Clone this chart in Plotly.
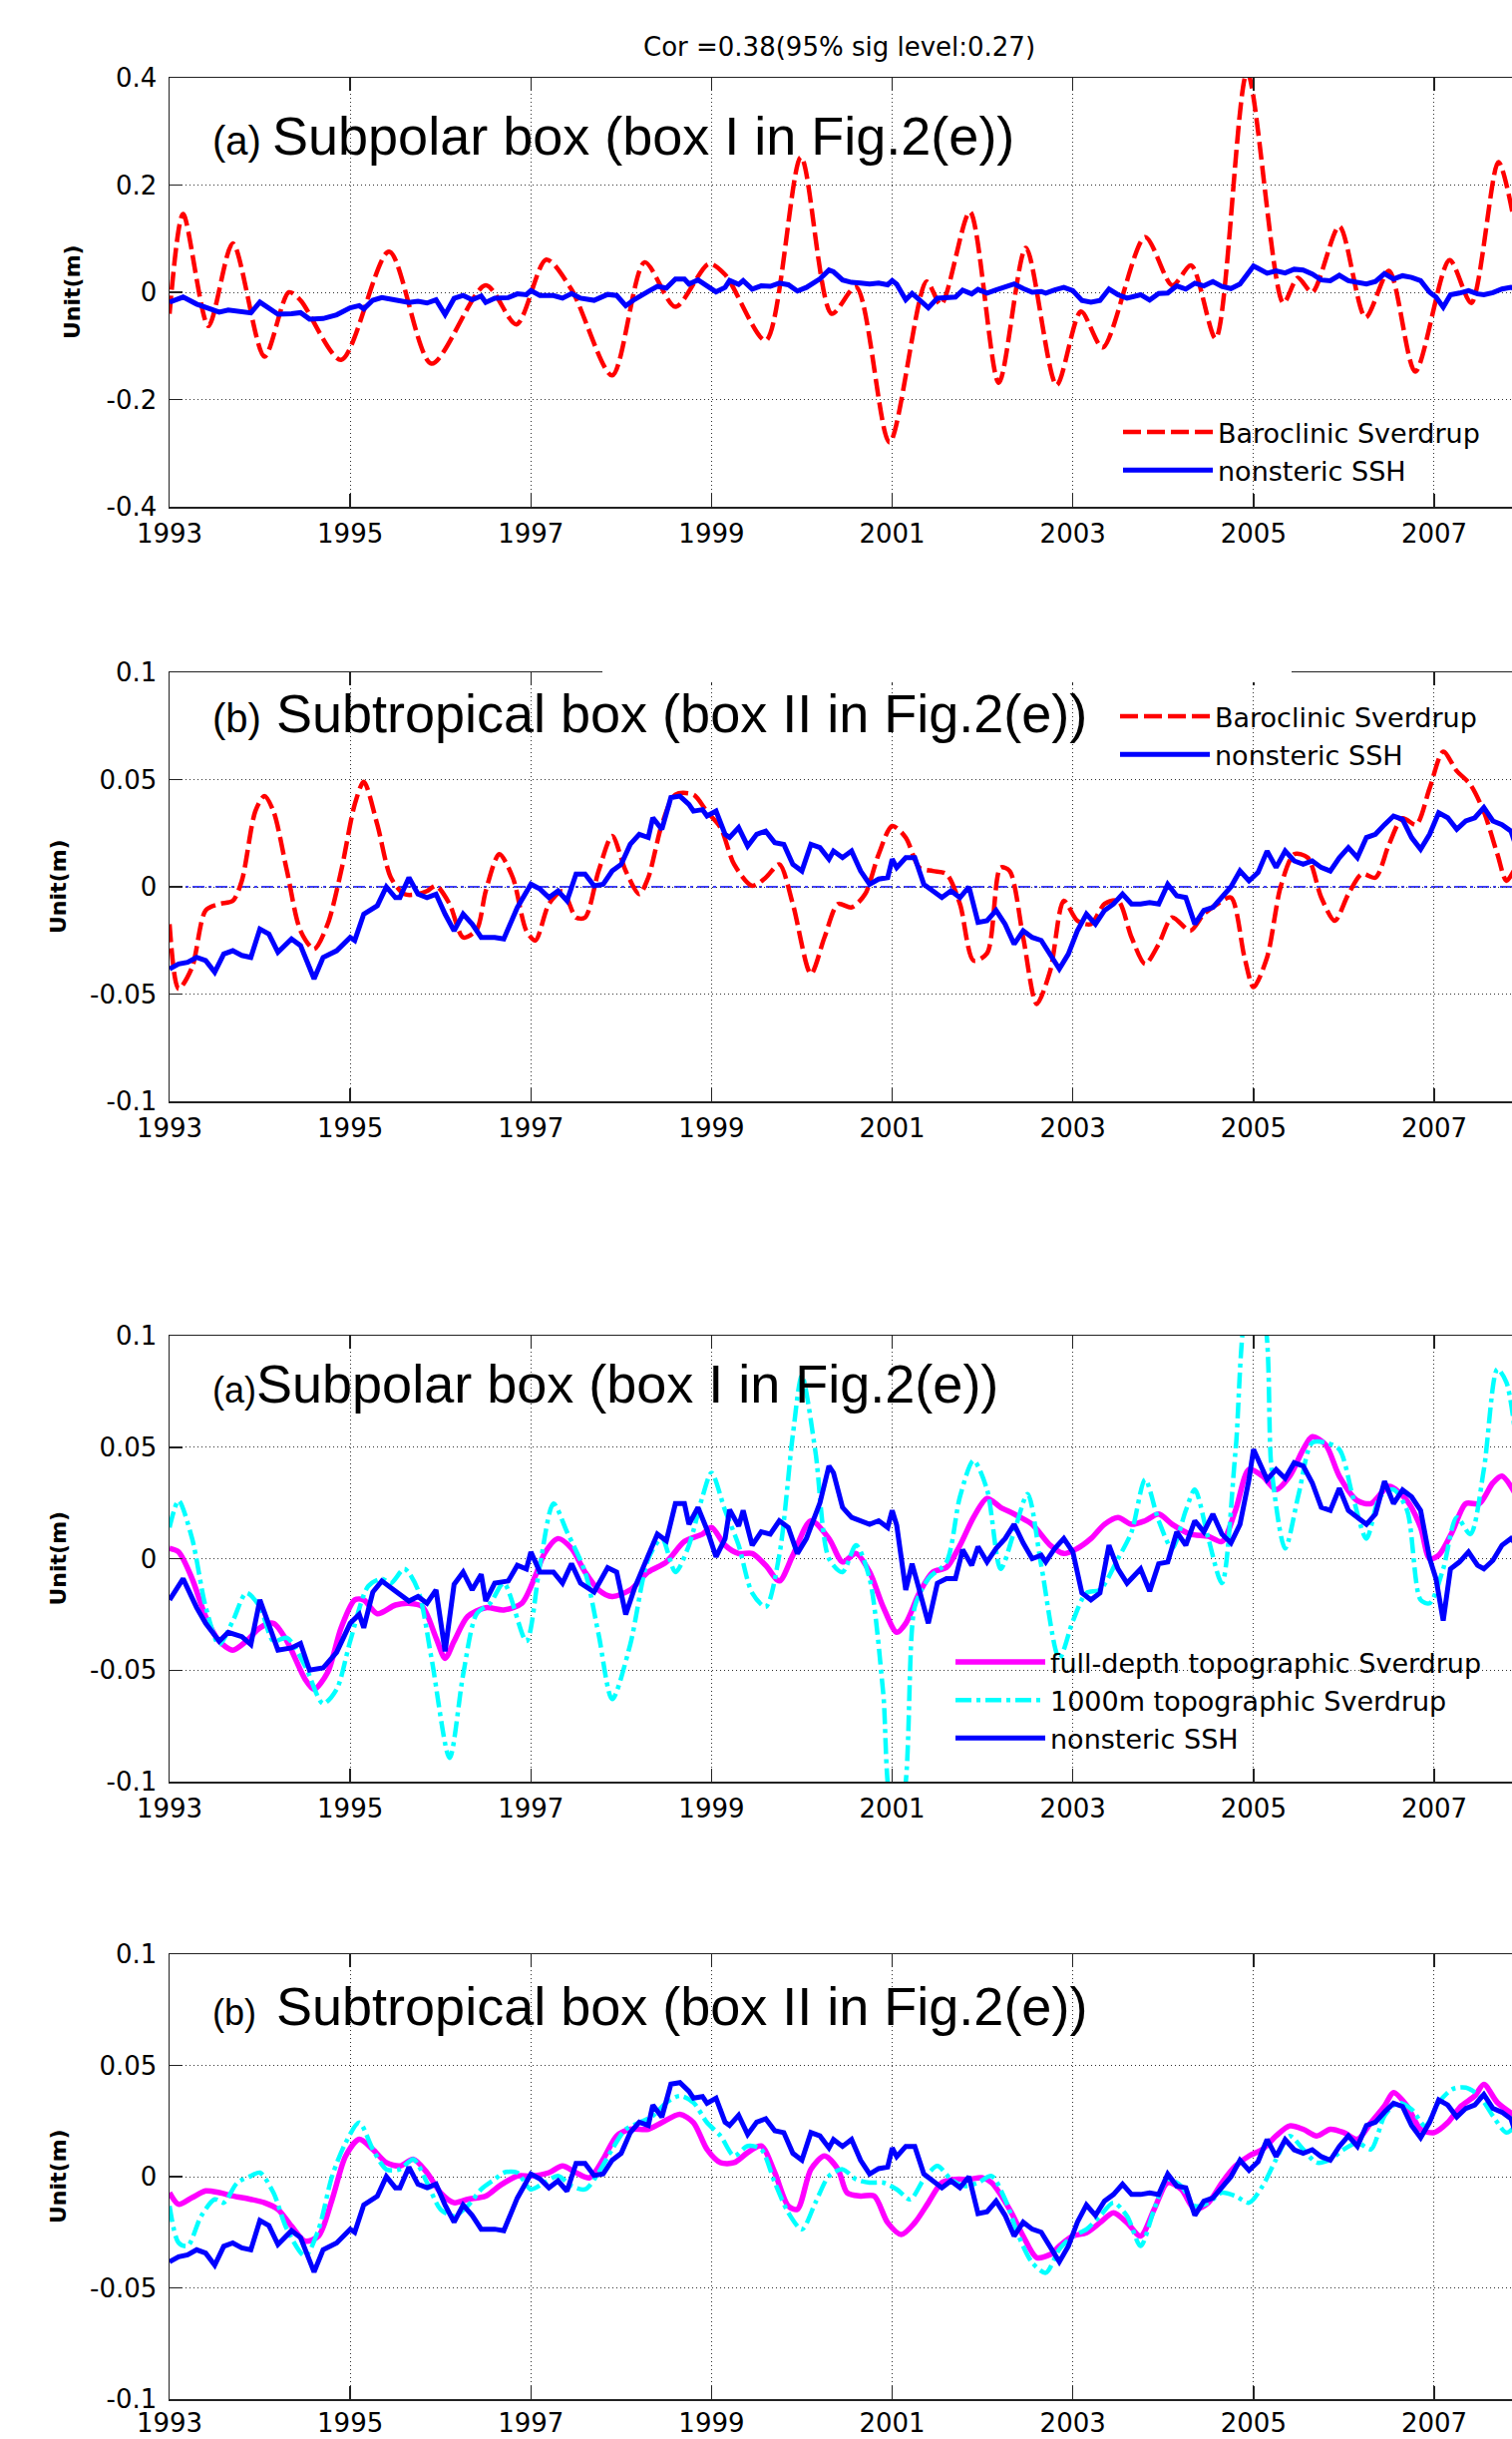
import plotly.graph_objects as go

W, H = 1516, 2445

# ---------------- data (decimal years, metres) ----------------
year_ticks = [1993, 1995, 1997, 1999, 2001, 2003, 2005, 2007]

# Subpolar box: nonsteric SSH (panels a)
sp_ssh_t = [1993.0, 1993.15, 1993.3, 1993.4, 1993.55, 1993.65, 1993.8, 1993.9, 1994.0, 1994.1, 1994.2, 1994.35,
            1994.45, 1994.55, 1994.7, 1994.85, 1995.0, 1995.1, 1995.15, 1995.25, 1995.35, 1995.5, 1995.65, 1995.75,
            1995.85, 1995.95, 1996.05, 1996.15, 1996.25, 1996.35, 1996.45, 1996.5, 1996.6, 1996.75, 1996.85, 1996.95,
            1997.0, 1997.1, 1997.25, 1997.35, 1997.45, 1997.55, 1997.7, 1997.85, 1997.95, 1998.05, 1998.15, 1998.3,
            1998.4, 1998.5, 1998.6, 1998.7, 1998.75, 1998.85, 1998.95, 1999.05, 1999.15, 1999.2, 1999.3, 1999.35,
            1999.45, 1999.55, 1999.65, 1999.75, 1999.85, 1999.95, 2000.05, 2000.2, 2000.3, 2000.35, 2000.45, 2000.55,
            2000.65, 2000.75, 2000.85, 2000.95, 2001.0, 2001.05, 2001.15, 2001.22, 2001.28, 2001.4, 2001.5, 2001.6,
            2001.7, 2001.78, 2001.88, 2001.95, 2002.05, 2002.15, 2002.25, 2002.35, 2002.45, 2002.55, 2002.65, 2002.7,
            2002.8, 2002.9, 2003.0, 2003.1, 2003.2, 2003.3, 2003.4, 2003.5, 2003.6, 2003.75, 2003.85, 2003.95,
            2004.05, 2004.15, 2004.25, 2004.35, 2004.45, 2004.55, 2004.65, 2004.75, 2004.85, 2004.95, 2005.0, 2005.05,
            2005.15, 2005.25, 2005.35, 2005.45, 2005.55, 2005.65, 2005.75, 2005.85, 2005.95, 2006.05, 2006.15, 2006.25,
            2006.35, 2006.45, 2006.55, 2006.65, 2006.75, 2006.85, 2006.95, 2007.02, 2007.1, 2007.18, 2007.28, 2007.38,
            2007.48, 2007.55, 2007.65, 2007.75, 2007.85, 2007.9]
sp_ssh = [-0.0185, -0.009, -0.022, -0.029, -0.037, -0.033, -0.035, -0.0385, -0.0185, -0.030, -0.041, -0.040,
          -0.038, -0.050, -0.049, -0.042, -0.029, -0.025, -0.031, -0.015, -0.010, -0.0145, -0.019, -0.017,
          -0.020, -0.014, -0.0416, -0.0115, -0.006, -0.014, -0.007, -0.019, -0.011, -0.010, -0.003, -0.0046,
          0.003, -0.006, -0.006, -0.011, -0.0023, -0.011, -0.015, -0.004, -0.006, -0.025, -0.013, 0.0015,
          0.011, 0.008, 0.0247, 0.0247, 0.0154, 0.023, 0.013, 0.0008, 0.009, 0.022, 0.0146, 0.0216,
          0.006, 0.012, 0.011, 0.017, 0.014, 0.0023, 0.009, 0.025, 0.0416, 0.0385, 0.023, 0.0185,
          0.017, 0.0154, 0.017, 0.014, 0.0216, 0.015, -0.014, -0.0023, -0.011, -0.029, -0.011, -0.009,
          -0.009, 0.004, -0.003, 0.0054, -0.0015, 0.0046, 0.009, 0.0154, 0.007, 0.0, 0.0015, -0.0015,
          0.0046, 0.009, 0.003, -0.0154, -0.0185, -0.0154, 0.006, -0.0046, -0.011, -0.0046, -0.0146, -0.0023,
          -0.0015, 0.012, 0.006, 0.017, 0.012, 0.020, 0.011, 0.007, 0.0154, 0.0355, 0.049, 0.0447,
          0.0355, 0.040, 0.036, 0.043, 0.0416, 0.034, 0.023, 0.0216, 0.0316, 0.0216, 0.0185, 0.0154,
          0.020, 0.0347, 0.0247, 0.0308, 0.0277, 0.0216, 0.0, -0.009, -0.0278, -0.0046, -0.0015, 0.003,
          -0.003, -0.0046, -0.0008, 0.006, 0.009, 0.007]

# Subpolar box: baroclinic Sverdrup
sp_baro_t = [1993.0, 1993.15, 1993.43, 1993.7, 1994.05, 1994.32, 1994.45, 1994.9, 1995.43, 1995.9, 1996.5, 1996.84,
             1997.17, 1997.45, 1997.9, 1998.26, 1998.6, 1998.97, 1999.15, 1999.6, 1999.99, 2000.33, 2000.6, 2000.97,
             2001.38, 2001.54, 2001.86, 2002.18, 2002.48, 2002.82, 2003.09, 2003.33, 2003.8, 2004.1, 2004.31, 2004.58,
             2004.93, 2005.33, 2005.49, 2005.65, 2005.95, 2006.24, 2006.5, 2006.79, 2007.17, 2007.41, 2007.71, 2007.87]
sp_baro = [-0.04, 0.146, -0.063, 0.091, -0.12, 0.0, -0.015, -0.126, 0.076, -0.133, 0.013, -0.06,
           0.061, 0.005, -0.155, 0.056, -0.027, 0.053, 0.033, -0.09, 0.252, -0.04, 0.01, -0.28,
           0.02, -0.023, 0.15, -0.169, 0.083, -0.173, -0.036, -0.103, 0.103, 0.013, 0.05, -0.086,
           0.41, -0.02, 0.027, 0.0, 0.123, -0.047, 0.04, -0.148, 0.06, -0.02, 0.243, 0.146]

# Subpolar box: full-depth topographic Sverdrup
sp_full_t = [1993.0, 1993.1, 1993.25, 1993.4, 1993.55, 1993.7, 1993.85, 1994.0, 1994.15, 1994.3, 1994.5, 1994.6,
             1994.75, 1994.9, 1995.05, 1995.15, 1995.3, 1995.5, 1995.65, 1995.8, 1995.95, 1996.05, 1996.15, 1996.3,
             1996.5, 1996.7, 1996.9, 1997.05, 1997.15, 1997.3, 1997.45, 1997.6, 1997.75, 1997.9, 1998.1, 1998.3,
             1998.5, 1998.7, 1998.9, 1999.0, 1999.15, 1999.3, 1999.45, 1999.6, 1999.75, 1999.9, 2000.1, 2000.3,
             2000.45, 2000.6, 2000.75, 2000.9, 2001.05, 2001.15, 2001.3, 2001.45, 2001.6, 2001.75, 2001.9, 2002.05,
             2002.2, 2002.35, 2002.55, 2002.75, 2002.9, 2003.05, 2003.2, 2003.35, 2003.5, 2003.65, 2003.8, 2003.95,
             2004.1, 2004.3, 2004.5, 2004.65, 2004.8, 2004.95, 2005.1, 2005.25, 2005.4, 2005.55, 2005.65, 2005.8,
             2005.95, 2006.15, 2006.3, 2006.5, 2006.7, 2006.85, 2006.95, 2007.05, 2007.2, 2007.35, 2007.5, 2007.65,
             2007.75, 2007.9]
sp_full = [0.0046, 0.003, -0.009, -0.026, -0.037, -0.041, -0.037, -0.031, -0.029, -0.037, -0.054, -0.0586,
           -0.051, -0.031, -0.0185, -0.0185, -0.0247, -0.0208, -0.020, -0.0216, -0.0355, -0.0447, -0.037, -0.026,
           -0.022, -0.023, -0.020, -0.0077, 0.0023, 0.009, 0.0046, -0.006, -0.014, -0.017, -0.014, -0.006,
           -0.0015, 0.0077, 0.011, 0.014, 0.006, 0.0023, 0.0023, -0.003, -0.010, 0.0015, 0.017, 0.009,
           -0.0015, 0.0023, -0.006, -0.0216, -0.033, -0.029, -0.0154, -0.006, -0.004, 0.006, 0.0185, 0.027,
           0.023, 0.020, 0.0154, 0.006, 0.0023, 0.0046, 0.009, 0.0154, 0.0185, 0.0154, 0.017, 0.020,
           0.0154, 0.011, 0.010, 0.0077, 0.0216, 0.040, 0.037, 0.031, 0.037, 0.049, 0.0547, 0.051,
           0.037, 0.026, 0.0247, 0.0324, 0.026, 0.014, 0.0, 0.0015, 0.012, 0.0247, 0.0247, 0.034,
           0.037, 0.029]

# Subpolar box: 1000m topographic Sverdrup
sp_1000_t = [1993.0, 1993.1, 1993.25, 1993.4, 1993.55, 1993.7, 1993.85, 1994.0, 1994.15, 1994.3, 1994.5, 1994.7,
             1994.85, 1995.0, 1995.2, 1995.35, 1995.45, 1995.6, 1995.75, 1995.9, 1996.1, 1996.25, 1996.4, 1996.55,
             1996.7, 1996.95, 1997.1, 1997.25, 1997.4, 1997.6, 1997.75, 1997.9, 1998.1, 1998.3, 1998.45, 1998.6,
             1998.75, 1998.9, 1999.0, 1999.15, 1999.3, 1999.45, 1999.6, 1999.75, 1999.9, 2000.0, 2000.15, 2000.3,
             2000.45, 2000.6, 2000.75, 2000.9, 2001.0, 2001.1, 2001.25, 2001.4, 2001.6, 2001.75, 2001.9, 2002.05,
             2002.2, 2002.35, 2002.5, 2002.65, 2002.85, 2003.0, 2003.15, 2003.3, 2003.5, 2003.65, 2003.8, 2003.95,
             2004.1, 2004.25, 2004.35, 2004.5, 2004.65, 2004.8, 2004.95, 2005.1, 2005.2, 2005.35, 2005.5, 2005.65,
             2005.8, 2005.95, 2006.1, 2006.25, 2006.4, 2006.55, 2006.7, 2006.85, 2006.95, 2007.1, 2007.25, 2007.4,
             2007.55, 2007.7, 2007.8, 2007.9]
sp_1000 = [0.014, 0.026, 0.009, -0.0216, -0.0385, -0.028, -0.0154, -0.0216, -0.037, -0.0355, -0.048, -0.065,
           -0.0586, -0.037, -0.0123, -0.009, -0.011, -0.0046, -0.014, -0.0447, -0.0894, -0.052, -0.0247, -0.020,
           -0.011, -0.037, -0.003, 0.0247, 0.012, -0.006, -0.034, -0.063, -0.0385, 0.0, 0.009, -0.006,
           0.006, 0.0278, 0.0385, 0.0216, 0.006, -0.0154, -0.0216, 0.0015, 0.0555, 0.082, 0.048, 0.0,
           -0.006, 0.006, -0.009, -0.060, -0.11, -0.11, -0.0216, -0.009, -0.0015, 0.0278, 0.044, 0.031,
           -0.0046, 0.012, 0.029, -0.003, -0.0447, -0.028, -0.0154, -0.014, 0.0, 0.012, 0.0355, 0.017,
           0.0046, 0.0216, 0.031, 0.009, -0.011, 0.048, 0.115, 0.11, 0.040, 0.0046, 0.029, 0.052,
           0.052, 0.049, 0.0278, 0.009, 0.0278, 0.031, 0.0216, -0.0185, -0.020, -0.0046, 0.0185, 0.011,
           0.040, 0.085, 0.079, 0.055]

# Subtropical box: nonsteric SSH (panels b)
st_ssh_t = [1993.0, 1993.1, 1993.2, 1993.3, 1993.4, 1993.5, 1993.6, 1993.7, 1993.8, 1993.9, 1994.0, 1994.1,
            1994.2, 1994.35, 1994.45, 1994.6, 1994.7, 1994.85, 1995.0, 1995.05, 1995.15, 1995.3, 1995.4, 1995.5,
            1995.55, 1995.65, 1995.75, 1995.85, 1995.95, 1996.05, 1996.15, 1996.25, 1996.35, 1996.45, 1996.6, 1996.7,
            1996.85, 1997.0, 1997.1, 1997.2, 1997.3, 1997.4, 1997.5, 1997.6, 1997.7, 1997.8, 1997.9, 1998.0,
            1998.1, 1998.2, 1998.3, 1998.35, 1998.45, 1998.55, 1998.65, 1998.75, 1998.8, 1998.9, 1998.95, 1999.05,
            1999.15, 1999.2, 1999.3, 1999.4, 1999.5, 1999.6, 1999.7, 1999.8, 1999.9, 2000.0, 2000.1, 2000.2,
            2000.3, 2000.35, 2000.45, 2000.55, 2000.65, 2000.75, 2000.85, 2000.95, 2001.0, 2001.05, 2001.15, 2001.25,
            2001.35, 2001.45, 2001.55, 2001.65, 2001.75, 2001.85, 2001.95, 2002.05, 2002.15, 2002.25, 2002.35, 2002.45,
            2002.55, 2002.65, 2002.75, 2002.85, 2002.95, 2003.05, 2003.15, 2003.25, 2003.35, 2003.45, 2003.55, 2003.65,
            2003.75, 2003.85, 2003.95, 2004.05, 2004.15, 2004.25, 2004.35, 2004.45, 2004.55, 2004.65, 2004.75, 2004.85,
            2004.95, 2005.05, 2005.15, 2005.25, 2005.35, 2005.45, 2005.55, 2005.65, 2005.75, 2005.85, 2005.95, 2006.05,
            2006.15, 2006.25, 2006.35, 2006.45, 2006.55, 2006.65, 2006.75, 2006.85, 2006.95, 2007.05, 2007.15, 2007.25,
            2007.35, 2007.45, 2007.55, 2007.65, 2007.75, 2007.85, 2007.9]
st_ssh = [-0.0383, -0.036, -0.0352, -0.0329, -0.0344, -0.0398, -0.0313, -0.0298, -0.032, -0.0329, -0.0197, -0.022,
          -0.0305, -0.0243, -0.0274, -0.0429, -0.0329, -0.0298, -0.0236, -0.025, -0.0127, -0.0088, 0.0, -0.005,
          -0.005, 0.0043, -0.0034, -0.005, -0.0034, -0.0127, -0.0205, -0.0127, -0.0174, -0.0236, -0.0236, -0.0243,
          -0.0096, 0.0012, -0.001, -0.005, -0.0019, -0.0065, 0.0059, 0.0059, 0.0005, 0.0012, 0.0074, 0.0105,
          0.0198, 0.0245, 0.023, 0.0322, 0.0268, 0.0416, 0.0423, 0.0384, 0.0353, 0.036, 0.033, 0.0353,
          0.0245, 0.023, 0.0276, 0.019, 0.0245, 0.026, 0.0206, 0.0198, 0.0105, 0.0074, 0.0198, 0.0183,
          0.0129, 0.0167, 0.0136, 0.0167, 0.0074, 0.0012, 0.0036, 0.0043, 0.0129, 0.009, 0.0136, 0.0136,
          0.0012, -0.0019, -0.005, -0.0019, -0.005, 0.0, -0.0166, -0.0158, -0.011, -0.0174, -0.0267, -0.0205,
          -0.0236, -0.025, -0.0313, -0.0383, -0.0313, -0.0205, -0.0127, -0.0174, -0.011, -0.008, -0.0034, -0.008,
          -0.008, -0.0073, -0.008, 0.0012, -0.0042, -0.005, -0.0174, -0.011, -0.0096, -0.005, 0.0, 0.0074,
          0.0028, 0.0067, 0.0167, 0.009, 0.0167, 0.0121, 0.0105, 0.0121, 0.009, 0.0074, 0.0136, 0.0183,
          0.0136, 0.023, 0.0245, 0.029, 0.033, 0.0315, 0.023, 0.0175, 0.0245, 0.0345, 0.0322, 0.0268,
          0.0307, 0.0322, 0.0369, 0.0307, 0.029, 0.026, 0.0198]

# Subtropical box: baroclinic Sverdrup
st_baro_t = [1993.0, 1993.1, 1993.25, 1993.4, 1993.55, 1993.7, 1993.8, 1993.95, 1994.05, 1994.15, 1994.3, 1994.45,
             1994.6, 1994.75, 1994.9, 1995.05, 1995.15, 1995.3, 1995.45, 1995.6, 1995.75, 1995.85, 1995.95, 1996.1,
             1996.25, 1996.4, 1996.5, 1996.65, 1996.8, 1996.95, 1997.05, 1997.2, 1997.35, 1997.5, 1997.6, 1997.75,
             1997.9, 1998.05, 1998.2, 1998.3, 1998.45, 1998.6, 1998.8, 1998.95, 1999.1, 1999.25, 1999.45, 1999.6,
             1999.75, 1999.9, 2000.1, 2000.25, 2000.4, 2000.55, 2000.7, 2000.85, 2001.0, 2001.15, 2001.3, 2001.45,
             2001.6, 2001.75, 2001.9, 2002.05, 2002.2, 2002.3, 2002.45, 2002.6, 2002.75, 2002.9, 2003.05, 2003.2,
             2003.35, 2003.5, 2003.65, 2003.8, 2003.95, 2004.1, 2004.3, 2004.45, 2004.6, 2004.75, 2004.9, 2005.0,
             2005.15, 2005.3, 2005.45, 2005.6, 2005.75, 2005.9, 2006.05, 2006.2, 2006.35, 2006.5, 2006.65, 2006.8,
             2006.95, 2007.1, 2007.25, 2007.4, 2007.55, 2007.7, 2007.8, 2007.9]
st_baro = [-0.0174, -0.0476, -0.0375, -0.011, -0.008, -0.0065, 0.0028, 0.0353, 0.0423, 0.0353, 0.0074, -0.0205,
           -0.029, -0.0174, 0.0074, 0.0384, 0.049, 0.029, 0.0043, -0.0034, -0.0034, -0.002, 0.0005, -0.008,
           -0.0236, -0.020, -0.002, 0.0152, 0.0043, -0.0205, -0.025, -0.008, -0.002, -0.0143, -0.0143, 0.0074,
           0.0237, 0.0074, -0.0034, 0.0043, 0.029, 0.043, 0.043, 0.035, 0.0276, 0.0105, 0.0005, 0.0043,
           0.0105, -0.008, -0.0406, -0.0236, -0.008, -0.0096, -0.0034, 0.0152, 0.0284, 0.023, 0.009, 0.0074,
           0.006, -0.008, -0.0344, -0.031, 0.009, 0.0074, -0.0236, -0.0546, -0.039, -0.0065, -0.0158, -0.0174,
           -0.008, -0.0065, -0.0236, -0.036, -0.0267, -0.0143, -0.0205, -0.0127, -0.008, -0.005, -0.0329, -0.0468,
           -0.0329, 0.0, 0.0152, 0.0136, -0.005, -0.0158, -0.0034, 0.006, 0.0043, 0.0198, 0.032, 0.029,
           0.046, 0.063, 0.054, 0.0477, 0.035, 0.0152, 0.0028, 0.009]

# Subtropical box: full-depth topographic Sverdrup
st_full_t = [1993.0, 1993.1, 1993.25, 1993.4, 1993.55, 1993.7, 1993.9, 1994.05, 1994.2, 1994.35, 1994.5, 1994.65,
             1994.8, 1994.95, 1995.1, 1995.25, 1995.4, 1995.55, 1995.7, 1995.85, 1996.0, 1996.15, 1996.3, 1996.5,
             1996.65, 1996.85, 1997.0, 1997.2, 1997.35, 1997.5, 1997.65, 1997.8, 1997.95, 1998.1, 1998.3, 1998.45,
             1998.65, 1998.8, 1998.95, 1999.1, 1999.25, 1999.4, 1999.55, 1999.7, 1999.85, 1999.95, 2000.1, 2000.25,
             2000.4, 2000.5, 2000.65, 2000.8, 2000.95, 2001.1, 2001.25, 2001.4, 2001.55, 2001.7, 2001.85, 2002.0,
             2002.1, 2002.3, 2002.45, 2002.6, 2002.75, 2002.85, 2003.0, 2003.15, 2003.3, 2003.45, 2003.6, 2003.75,
             2003.9, 2004.05, 2004.2, 2004.35, 2004.5, 2004.65, 2004.8, 2004.95, 2005.1, 2005.25, 2005.4, 2005.55,
             2005.7, 2005.85, 2006.0, 2006.15, 2006.3, 2006.45, 2006.55, 2006.7, 2006.85, 2007.0, 2007.15, 2007.3,
             2007.45, 2007.55, 2007.7, 2007.9]
st_full = [-0.0072, -0.0124, -0.0094, -0.0064, -0.0072, -0.0087, -0.0102, -0.0117, -0.0147, -0.0222, -0.029, -0.0267,
           -0.0102, 0.0093, 0.0168, 0.0123, 0.0063, 0.0048, 0.0078, 0.0018, -0.0072, -0.0117, -0.0102, -0.0087,
           -0.0042, 0.0003, 0.0003, 0.0018, 0.0048, 0.0018, -0.0005, 0.0078, 0.0183, 0.0213, 0.0213, 0.0243,
           0.028, 0.0243, 0.0123, 0.0063, 0.0063, 0.0108, 0.0138, 0.0018, -0.0132, -0.0147, 0.0033, 0.0093,
           0.0033, -0.0072, -0.0087, -0.0087, -0.0207, -0.026, -0.0207, -0.0117, -0.0027, -0.0012, -0.0012, -0.0005,
           -0.0027, -0.0147, -0.0267, -0.0364, -0.035, -0.0312, -0.0267, -0.0252, -0.0207, -0.0162, -0.0207, -0.0267,
           -0.0147, -0.0027, -0.0057, -0.0147, -0.0117, -0.0027, 0.0048, 0.0093, 0.0123, 0.0183, 0.0228, 0.0213,
           0.0183, 0.0213, 0.0198, 0.0168, 0.0243, 0.0318, 0.0378, 0.0318, 0.0213, 0.0198, 0.0243, 0.0318,
           0.0363, 0.0415, 0.0333, 0.0273]

# Subtropical box: 1000m topographic Sverdrup
st_1000_t = [1993.0, 1993.1, 1993.2, 1993.35, 1993.5, 1993.6, 1993.75, 1993.9, 1994.0, 1994.15, 1994.3, 1994.5,
             1994.65, 1994.8, 1994.95, 1995.1, 1995.25, 1995.4, 1995.55, 1995.7, 1995.85, 1996.0, 1996.15, 1996.3,
             1996.45, 1996.6, 1996.7, 1996.85, 1997.0, 1997.15, 1997.3, 1997.45, 1997.6, 1997.75, 1997.9, 1998.05,
             1998.2, 1998.35, 1998.5, 1998.65, 1998.8, 1998.95, 1999.1, 1999.25, 1999.4, 1999.55, 1999.7, 1999.85,
             2000.0, 2000.15, 2000.3, 2000.45, 2000.6, 2000.75, 2000.9, 2001.05, 2001.2, 2001.35, 2001.5, 2001.65,
             2001.8, 2001.95, 2002.1, 2002.25, 2002.4, 2002.55, 2002.7, 2002.85, 2003.0, 2003.15, 2003.3, 2003.45,
             2003.6, 2003.75, 2003.9, 2004.05, 2004.2, 2004.35, 2004.5, 2004.65, 2004.8, 2004.95, 2005.1, 2005.25,
             2005.4, 2005.55, 2005.7, 2005.85, 2006.0, 2006.15, 2006.3, 2006.45, 2006.6, 2006.75, 2006.9, 2007.05,
             2007.2, 2007.35, 2007.5, 2007.65, 2007.8, 2007.9]
st_1000 = [-0.0132, -0.0297, -0.0312, -0.0177, -0.0102, -0.0117, -0.0027, 0.0003, 0.0018, -0.0072, -0.0237, -0.0357,
           -0.0237, 0.0003, 0.0153, 0.0243, 0.0123, 0.0033, 0.0033, 0.0078, -0.0027, -0.0147, -0.0177, -0.0132,
           -0.0057, -0.0012, 0.0018, 0.0018, -0.0057, -0.0027, 0.0003, -0.0042, -0.0057, 0.0018, 0.0123, 0.0213,
           0.0243, 0.0273, 0.0333, 0.0363, 0.0333, 0.0243, 0.0183, 0.0093, 0.0138, 0.0123, -0.0027, -0.0162,
           -0.0237, -0.0117, 0.0003, 0.0033, -0.0012, -0.0027, -0.0027, -0.0057, -0.0102, -0.0012, 0.0048, -0.0012,
           -0.0042, -0.0027, 0.0003, -0.0102, -0.0267, -0.0387, -0.0432, -0.0327, -0.0267, -0.0237, -0.0177, -0.0117,
           -0.0177, -0.0312, -0.0147, -0.0012, -0.0042, -0.0132, -0.0117, -0.0072, -0.0087, -0.0117, -0.0042, 0.0078,
           0.0183, 0.0123, 0.0063, 0.0078, 0.0123, 0.0153, 0.0123, 0.0273, 0.0333, 0.0303, 0.0228, 0.0333,
           0.0393, 0.040, 0.0363, 0.0273, 0.0198, 0.0228]

# ---------------- layout helpers ----------------
def py(px):
    return 1 - px / H

XL = 170
XEND = 1993 + (W - XL) / 90.57
panels = [  # (top px, bottom px)
    (78, 508), (674, 1104), (1339, 1786), (1959, 2405)
]
yranges = [[-0.4, 0.4], [-0.1, 0.1], [-0.1, 0.1], [-0.1, 0.1]]
ytickv = [[-0.4, -0.2, 0, 0.2, 0.4], [-0.1, -0.05, 0, 0.05, 0.1], [-0.1, -0.05, 0, 0.05, 0.1], [-0.1, -0.05, 0, 0.05, 0.1]]
ytickt = [["-0.4", "-0.2", "0", "0.2", "0.4"], ["-0.1", "-0.05", "0", "0.05", "0.1"],
          ["-0.1", "-0.05", "0", "0.05", "0.1"], ["-0.1", "-0.05", "0", "0.05", "0.1"]]
xstandoff = [3, 3, 3, 0]

TICKFONT = dict(family="DejaVu Sans", size=26, color="black")
AXC = "#222222"

RED = "#FF0000"
BLUE = "#0000FF"
MAG = "#FF00FF"
CYAN = "#00FFFF"
DASH_RED = "18px,6px"
DASH_CYAN = "16px,5px,4px,5px"

fig = go.Figure()

def add(i, t, v, name, color, width, dash=None, spline=False, legend=None, show=True):
    ax = "" if i == 1 else str(i)
    fig.add_trace(go.Scatter(
        x=t, y=v, mode="lines", name=name,
        line=dict(color=color, width=width, dash=dash, shape="spline" if spline else "linear", smoothing=0.8),
        xaxis="x" + ax, yaxis="y" + ax, showlegend=show,
        legend=legend if legend else "legend", hoverinfo="skip"))

add(1, sp_baro_t, sp_baro, "Baroclinic Sverdrup", RED, 4.5, DASH_RED, True, "legend")
add(1, sp_ssh_t, sp_ssh, "nonsteric SSH", BLUE, 5, None, False, "legend")
add(2, st_baro_t, st_baro, "Baroclinic Sverdrup", RED, 4.5, DASH_RED, True, "legend2")
add(2, st_ssh_t, st_ssh, "nonsteric SSH", BLUE, 5, None, False, "legend2")
add(3, sp_full_t, sp_full, "full-depth topographic Sverdrup", MAG, 5.5, None, True, "legend3")
add(3, sp_1000_t, sp_1000, "1000m topographic Sverdrup", CYAN, 4.5, DASH_CYAN, True, "legend3")
add(3, sp_ssh_t, sp_ssh, "nonsteric SSH", BLUE, 5, None, False, "legend3")
add(4, st_full_t, st_full, "full-depth topographic Sverdrup", MAG, 5.5, None, True, None, False)
add(4, st_1000_t, st_1000, "1000m topographic Sverdrup", CYAN, 4.5, DASH_CYAN, True, None, False)
add(4, st_ssh_t, st_ssh, "nonsteric SSH", BLUE, 5, None, False, None, False)

layout = dict(
    width=W, height=H, autosize=False,
    margin=dict(l=0, r=0, t=0, b=0, pad=0),
    paper_bgcolor="white", plot_bgcolor="white",
    font=dict(family="DejaVu Sans", size=26, color="black"),
    shapes=[], annotations=[],
)

for k, ((top, bot), yr, tv, tt, xs) in enumerate(zip(panels, yranges, ytickv, ytickt, xstandoff), start=1):
    ax = "" if k == 1 else str(k)
    layout["xaxis" + ax] = dict(
        domain=[XL / W, 1.0], range=[1993, XEND], anchor="y" + ax, automargin=False,
        tickvals=year_ticks, ticktext=[str(y) for y in year_ticks],
        ticks="inside", ticklen=13, tickwidth=1.5, tickcolor=AXC,
        showline=True, linecolor=AXC, linewidth=1.5, mirror="ticks",
        showgrid=True, gridcolor="#333333", gridwidth=1, griddash="1px,3px",
        zeroline=False, tickfont=TICKFONT, ticklabelstandoff=xs,
    )
    layout["yaxis" + ax] = dict(
        domain=[py(bot), py(top)], range=yr, anchor="x" + ax, automargin=False,
        tickvals=tv, ticktext=tt,
        ticks="inside", ticklen=13, tickwidth=1.5, tickcolor=AXC,
        showline=True, linecolor=AXC, linewidth=1.5, mirror=False,
        showgrid=True, gridcolor="#333333", gridwidth=1, griddash="1px,3px",
        zeroline=False, tickfont=TICKFONT, ticklabelstandoff=6,
    )

# blue dash-dot zero reference line in panel (b)
layout["shapes"].append(dict(type="line", xref="x2 domain", yref="y2", x0=0, x1=1, y0=0, y1=0,
                             line=dict(color=BLUE, width=1.5, dash="12px,4px,3px,4px"), layer="below"))
# gap in the top frame of panel (b) (covered by a white box in the original)
layout["shapes"].append(dict(type="rect", xref="paper", yref="paper", x0=604 / W, x1=1295 / W,
                             y0=py(684), y1=py(664), fillcolor="white", line=dict(width=0), layer="above"))

# y-axis labels
for k, (xc, (top, bot)) in enumerate(zip([72, 58, 58, 58], panels), start=1):
    layout["annotations"].append(dict(
        text="Unit(m)", xref="paper", yref="paper", x=xc / W, y=py((top + bot) / 2),
        xanchor="center", yanchor="middle", textangle=-90, showarrow=False,
        font=dict(family="DejaVu Sans", size=22, color="black", weight="bold")))

# top title
layout["annotations"].append(dict(
    text="Cor =0.38(95% sig level:0.27)", xref="paper", yref="paper", x=841 / W, y=py(47),
    xanchor="center", yanchor="middle", showarrow=False,
    font=dict(family="DejaVu Sans", size=26, color="black")))

# panel titles
titles = [
    ('<span style="font-size:40px">(a) </span>Subpolar box (box I in Fig.2(e))', 136),
    ('<span style="font-size:40px">(b)</span> Subtropical box (box II in Fig.2(e))', 715),
    ('<span style="font-size:36px">(a)</span>Subpolar box (box I in Fig.2(e))', 1387),
    ('<span style="font-size:36px">(b)&nbsp;&nbsp;</span>Subtropical box (box II in Fig.2(e))', 2011),
]
for txt, yc in titles:
    layout["annotations"].append(dict(
        text=txt, xref="paper", yref="paper", x=211 / W, y=py(yc),
        xanchor="left", yanchor="middle", showarrow=False,
        font=dict(family="Liberation Sans", size=54, color="black")))

LEGFONT = dict(family="DejaVu Sans", size=27, color="black")
leg_common = dict(bgcolor="rgba(0,0,0,0)", borderwidth=0, font=LEGFONT, itemwidth=90,
                  xanchor="left", yanchor="top", tracegroupgap=0, itemclick=False)
layout["legend"] = dict(x=1121 / W, y=py(409), **leg_common)
layout["legend2"] = dict(x=1118 / W, y=py(694), **leg_common)
layout["legend3"] = dict(x=953 / W, y=py(1642), **leg_common)

fig.update_layout(**layout)
fig.write_html("out.html",
               config={"displayModeBar": False, "staticPlot": True},
               post_script="document.body.style.margin='0';document.body.style.padding='0';"
                           "document.body.style.overflow='hidden';")
